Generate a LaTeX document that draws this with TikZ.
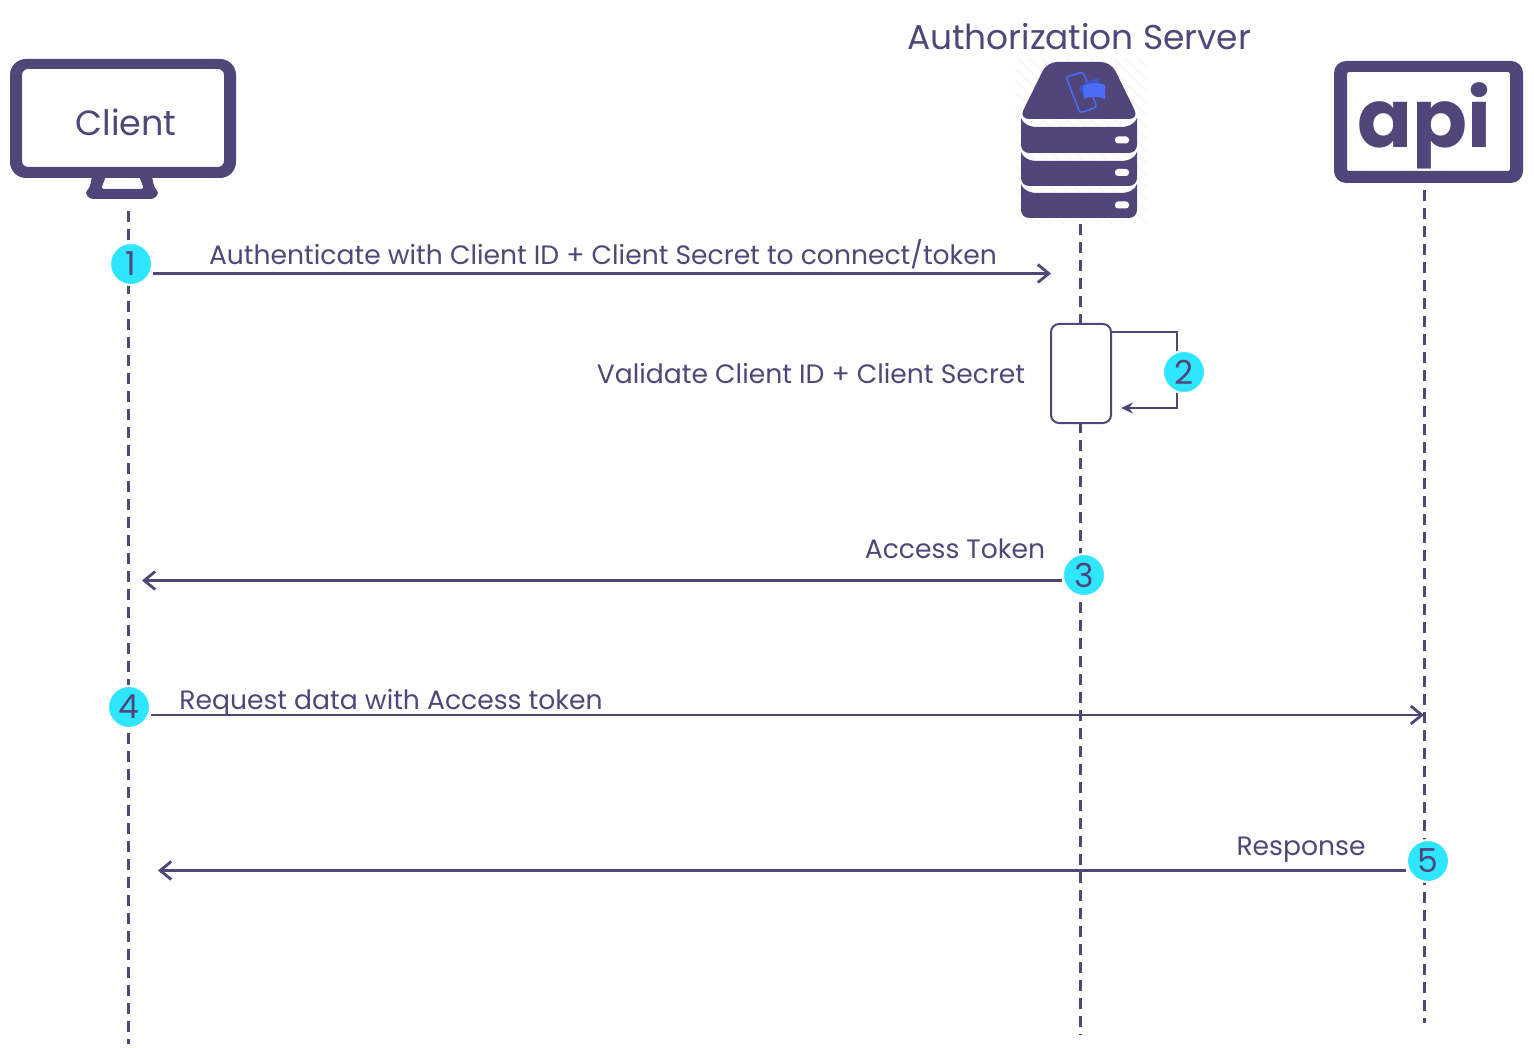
\documentclass[tikz,border=0pt]{standalone}
\usepackage{fontspec}
\setmainfont{Poppins}
\usetikzlibrary{arrows.meta}
\definecolor{ink}{HTML}{50467A}
\definecolor{cyanbadge}{HTML}{2EE6FF}
\definecolor{iconblue}{HTML}{4A6CF7}
\tikzset{
	lifeline/.style={draw=ink,line width=3pt,dash pattern=on 11pt off 7pt},
	msg/.style={draw=ink,line width=2.6pt,-{Straight Barb[length=11pt,width=18pt,line width=2.8pt]}},
	badge/.style={circle,fill=cyanbadge,draw=white,line width=2pt,minimum size=42pt,inner sep=0pt,text=ink,font=\fontsize{33}{33}\selectfont},
	msglabel/.style={text=ink,inner sep=0pt,anchor=base,font=\fontsize{26.6}{27}\selectfont},
}
\begin{document}
\begin{tikzpicture}[x=1pt,y=-1pt]
	\useasboundingbox (0,0) rectangle (1534,1048);
	% lifelines
	\coordinate (clienttop) at (128,211);
	\coordinate (clientend) at (128,1044);
	\coordinate (servertop) at (1080,224);
	\coordinate (serverend) at (1080,1035);
	\coordinate (apitop) at (1424,190);
	\coordinate (apiend) at (1424,1023);
	\draw[lifeline] (clienttop) -- (clientend);
	\draw[lifeline] (servertop) -- (serverend);
	\draw[lifeline] (apitop) -- (apiend);
	% client monitor
	\fill[ink,even odd rule,rounded corners=16pt] (10,59) rectangle (236,178)
		[rounded corners=6pt] (22,69) rectangle (224,167);
	\fill[ink,even odd rule,rounded corners=3pt] (106,176) -- (92,176) -- (90,187) -- (85,193) -- (90,199) -- (154,199) -- (159,193) -- (154,187) -- (152,176) -- (139,176) -- (144,189) -- (101,189) -- cycle;
	\node[text=ink,inner sep=0pt,font=\fontsize{35}{35}\selectfont] (client) at (126,122) {Client};
	% server stack
	\begin{scope}
		\clip (1015,58) rectangle (1146,224);
		\foreach \i in {0,12,...,290}
			\draw[black!3,line width=1.5pt] (1015+\i,224) -- +(-166,-166);
	\end{scope}
	\fill[ink,rounded corners=10pt] (1047,62) -- (1111,62) -- (1139,119) -- (1019,119) -- cycle;
	\foreach \t/\b in {118/153,152/186,184/218}
		\fill[ink] (1021,\t) .. controls (1024,\t+7) and (1030,\t+9) .. (1038,\t+9) -- (1120,\t+9) .. controls (1128,\t+9) and (1134,\t+7) .. (1137,\t) [rounded corners=8pt] -- (1137,\b) -- (1021,\b) -- (1021,\t);
	\foreach \p in {140,172.5,205}
		\fill[white,rounded corners=3pt] (1115,\p-3.5) rectangle (1129,\p+3.5);
	\draw[iconblue,line width=1.5pt,rounded corners=3pt] (1066,77) -- (1083,72) -- (1097,107) -- (1080,113) -- cycle;
	\fill[iconblue!80!black] (1079,88) .. controls (1084,82) and (1092,80) .. (1099,78) -- (1100,90) -- (1084,97) -- cycle;
	\fill[iconblue] (1083,86) .. controls (1088,83) and (1098,82) .. (1105,85) -- (1105,99) .. controls (1098,96) and (1090,96) .. (1084,99) -- cycle;
	\node[text=ink,inner sep=0pt,font=\fontsize{34.4}{35}\selectfont] (authserver) at (1079,37) {Authorization Server};
	% api logo
	\fill[ink,even odd rule,rounded corners=12pt] (1334,61) rectangle (1523,183)
		[rounded corners=2pt] (1347,72) rectangle (1510,171);
	\node[text=ink,inner sep=0pt,font=\fontsize{81}{81}\selectfont\bfseries] (apilogo) at (1424,126) {api};
	% activation box
	\node[draw=ink,fill=white,line width=2pt,rounded corners=8pt,minimum width=60pt,minimum height=99pt] (validate) at (1081,373.5) {};
	% badges
	\foreach \n/\x/\y in {1/131/264,2/1184/372,3/1084/575,4/129/707,5/1428/861}
		\coordinate (pos\n) at (\x,\y);
	\coordinate (selfout) at (1177,332);
	\coordinate (selfin) at (1177,408);
	\coordinate (selfend) at (1121,408);
	\draw[draw=ink,line width=2pt,-{Stealth[length=12pt,width=11pt]}] (validate.east |- selfout) -- (selfout) -- (selfin) -- (selfend);
	\foreach \n in {1,...,5}
		\node[badge] (badge\n) at (pos\n) {\n};
	% messages
	\coordinate (tokenend) at (1051,273.5);
	\coordinate (accessend) at (142,580.5);
	\coordinate (dataend) at (1424,715);
	\coordinate (respend) at (158,870.5);
	\draw[msg,line width=3.2pt] (badge1.east |- tokenend) -- (tokenend);
	\draw[msg] (badge3.west |- accessend) -- (accessend);
	\draw[msg] (badge4.east |- dataend) -- (dataend);
	\draw[msg] (badge5.west |- respend) -- (respend);
	% labels
	\node[msglabel] (tokenlabel) at (603,265) {Authenticate with Client ID + Client Secret to connect/token};
	\node[msglabel] (validatelabel) at (811,384) {Validate Client ID + Client Secret};
	\node[msglabel] (accesslabel) at (955,558) {Access Token};
	\node[msglabel] (datalabel) at (391,709) {Request data with Access token};
	\node[msglabel] (resplabel) at (1301,855) {Response};
\end{tikzpicture}
\end{document}
